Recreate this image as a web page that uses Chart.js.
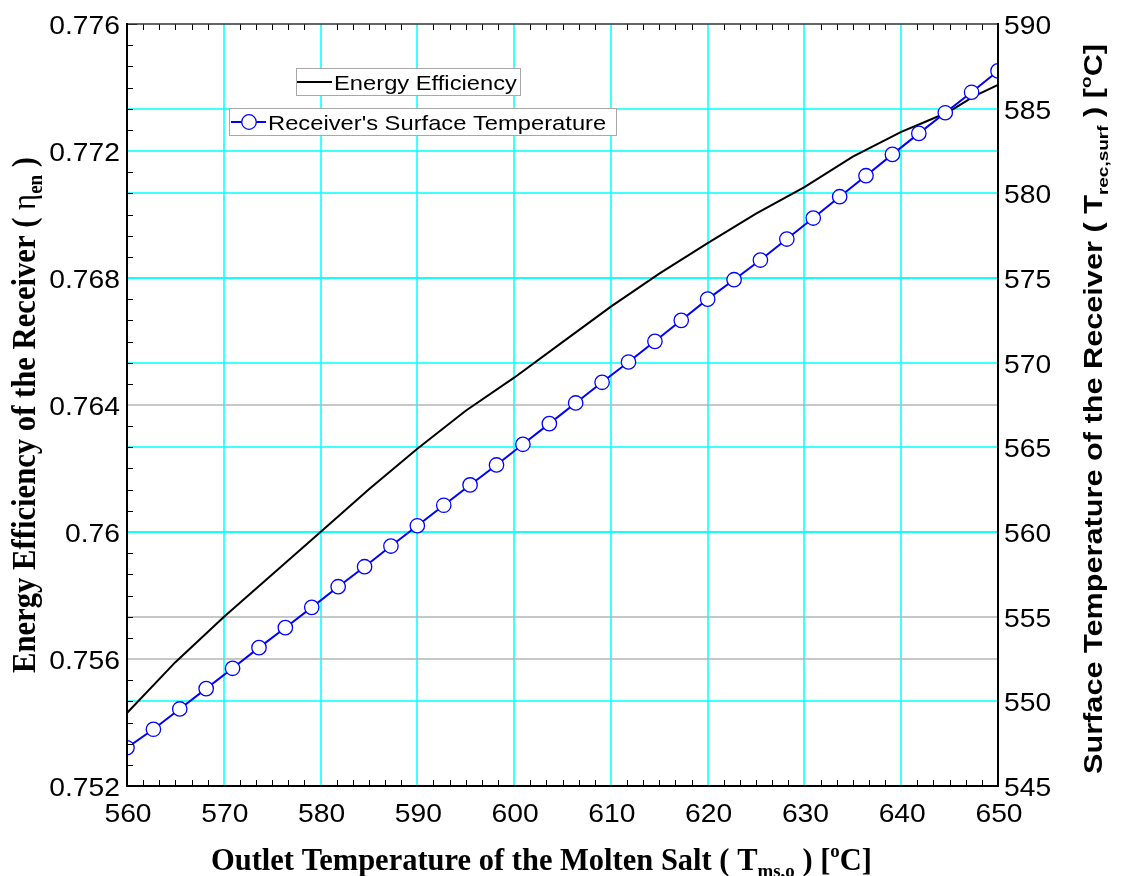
<!DOCTYPE html>
<html>
<head>
<meta charset="utf-8">
<script src="https://cdn.jsdelivr.net/npm/chart.js@4.4.1/dist/chart.umd.min.js"></script>
<style>
html,body{margin:0;padding:0;background:#fff;}
canvas{display:block;}
</style>
</head>
<body>
<canvas id="c" width="1122" height="876"></canvas>
<script>
// ---------------- DATA ----------------
// Energy efficiency of the receiver (left axis)
const effT = [560, 565, 570, 575, 580, 585, 590, 595, 600, 605, 610, 615, 620, 625, 630, 635, 640, 642.5, 645, 647.5, 650];
const effVal = [0.75430, 0.75590, 0.75732, 0.75866, 0.76000, 0.76135, 0.76262, 0.76382, 0.76486, 0.76598, 0.76710, 0.76814, 0.76910, 0.77003, 0.77086, 0.77182, 0.77260, 0.77292, 0.77325, 0.77372, 0.77408];

// Receiver's surface temperature (right axis), marker points
const surfT = [560, 562.73, 565.45, 568.18, 570.91, 573.64, 576.36, 579.09, 581.82, 584.55, 587.27, 590, 592.73, 595.45, 598.18, 600.91, 603.64, 606.36, 609.09, 611.82, 614.55, 617.27, 620, 622.73, 625.45, 628.18, 630.91, 633.64, 636.36, 639.09, 641.82, 644.55, 647.27, 650];
const surfVal = [547.26, 548.35, 549.55, 550.75, 551.95, 553.17, 554.35, 555.55, 556.77, 557.95, 559.17, 560.37, 561.58, 562.78, 563.96, 565.18, 566.40, 567.62, 568.84, 570.04, 571.26, 572.50, 573.75, 574.90, 576.06, 577.30, 578.54, 579.80, 581.04, 582.30, 583.54, 584.76, 585.97, 587.23];

// Tick labels
const xTickLabels = ['560', '570', '580', '590', '600', '610', '620', '630', '640', '650'];
const leftTickLabels = ['0.752', '0.756', '0.76', '0.764', '0.768', '0.772', '0.776'];
const rightTickLabels = ['545', '550', '555', '560', '565', '570', '575', '580', '585', '590'];
// Grid lines drawn gray instead of cyan
const grayLeft = [0.764, 0.756];
const grayRight = [555];

const seriesNames = ['Energy Efficiency', "Receiver's Surface Temperature"];

// ---------------- STYLE ----------------
const CYAN = '#00ffff';
const GRAY = '#b4b4b4';
const SX = 1.13; // horizontal stretch of text

function near(v, arr, tol) { return arr.some(a => Math.abs(a - v) < tol); }

function drawParts(c, parts, size, fam, wt, draw) {
  let x = 0;
  for (const p of parts) {
    const s = p.k === 'n' ? size : size * 0.62;
    const dy = p.k === 'b' ? size * 0.22 : (p.k === 'p' ? -size * 0.42 : 0);
    c.font = `${p.w || wt} ${s}px ${p.f || fam}`;
    if (draw) c.fillText(p.t, x, dy);
    x += c.measureText(p.t).width;
  }
  return x;
}

const decor = {
  id: 'decor',
  beforeDraw(chart) {
    const c = chart.ctx;
    c.save();
    c.fillStyle = '#fff';
    c.fillRect(0, 0, chart.width, chart.height);
    c.restore();
  },
  beforeDatasetsDraw(chart) {
    const c = chart.ctx;
    const a = chart.chartArea;
    const sx = chart.scales.x, yl = chart.scales.yL, yr = chart.scales.yR;
    c.save();
    c.lineWidth = 1.5;
    c.strokeStyle = CYAN;
    const xs = xTickLabels.map(Number);
    for (let i = 1; i < xs.length - 1; i++) {
      const px = Math.round(sx.getPixelForValue(xs[i]));
      c.beginPath(); c.moveTo(px, a.top); c.lineTo(px, a.bottom); c.stroke();
    }
    const rs = rightTickLabels.map(Number);
    for (let i = 1; i < rs.length - 1; i++) {
      const py = Math.round(yr.getPixelForValue(rs[i]));
      c.strokeStyle = near(rs[i], grayRight, 1e-6) ? GRAY : CYAN;
      c.beginPath(); c.moveTo(a.left, py); c.lineTo(a.right, py); c.stroke();
    }
    const ls = leftTickLabels.map(Number);
    for (let i = 1; i < ls.length - 1; i++) {
      const py = Math.round(yl.getPixelForValue(ls[i]));
      c.strokeStyle = near(ls[i], grayLeft, 1e-6) ? GRAY : CYAN;
      c.beginPath(); c.moveTo(a.left, py); c.lineTo(a.right, py); c.stroke();
    }
    c.restore();
  },
  afterDatasetsDraw(chart) {
    const c = chart.ctx;
    const ds = chart.data.datasets;
    c.save();
    c.fillStyle = '#fff';
    c.strokeStyle = '#a8a8a8';
    c.lineWidth = 1;
    c.fillRect(296.5, 68.5, 224, 27);
    c.strokeRect(296.5, 68.5, 224, 27);
    c.fillRect(229.5, 108.5, 387, 27);
    c.strokeRect(229.5, 108.5, 387, 27);
    c.strokeStyle = ds[0].borderColor;
    c.lineWidth = 2;
    c.beginPath(); c.moveTo(297, 82); c.lineTo(332, 82); c.stroke();
    c.strokeStyle = ds[1].borderColor;
    c.beginPath(); c.moveTo(231, 122); c.lineTo(266, 122); c.stroke();
    c.beginPath(); c.arc(249, 122, 7.3, 0, Math.PI * 2);
    c.fillStyle = '#fff'; c.fill();
    c.lineWidth = 1.3; c.strokeStyle = ds[1].pointBorderColor; c.stroke();
    c.fillStyle = '#000';
    c.font = '21px "Liberation Sans", Arial, sans-serif';
    c.textAlign = 'left'; c.textBaseline = 'alphabetic';
    c.save(); c.translate(334, 90); c.scale(SX, 1); c.fillText(ds[0].label, 0, 0); c.restore();
    c.save(); c.translate(268, 129.5); c.scale(SX, 1); c.fillText(ds[1].label, 0, 0); c.restore();
    c.restore();
  },
  afterDraw(chart) {
    const c = chart.ctx;
    const a = chart.chartArea;
    const sx = chart.scales.x, yl = chart.scales.yL, yr = chart.scales.yR;
    c.save();
    c.strokeStyle = '#000';
    c.lineWidth = 1;
    // inward ticks (inner major positions are covered by grid lines)
    const xMajor = xTickLabels.map(Number);
    for (let i = 0; i < xMajor.length; i++) {
      for (let k = 0; k < 6; k++) {
        if (i === xMajor.length - 1 && k > 0) break;
        if (k === 0 && i > 0 && i < xMajor.length - 1) continue;
        const v = xMajor[i] + k * (xMajor[1] - xMajor[0]) / 6;
        const px = Math.round(sx.getPixelForValue(v)) + 0.5;
        const len = k === 0 ? 10 : 6;
        c.beginPath(); c.moveTo(px, a.bottom); c.lineTo(px, a.bottom - len); c.stroke();
        c.beginPath(); c.moveTo(px, a.top); c.lineTo(px, a.top + len); c.stroke();
      }
    }
    const lMajor = leftTickLabels.map(Number);
    const lStep = lMajor[1] - lMajor[0];
    for (let i = 0; i < lMajor.length; i++) {
      for (let k = 0; k < 6; k++) {
        if (i === lMajor.length - 1 && k > 0) break;
        if (k === 0 && i > 0 && i < lMajor.length - 1) continue;
        const v = lMajor[i] + k * lStep / 6;
        const py = Math.round(yl.getPixelForValue(v)) + 0.5;
        const len = k === 0 ? 10 : 6;
        c.beginPath(); c.moveTo(a.left, py); c.lineTo(a.left + len, py); c.stroke();
      }
    }
    c.strokeStyle = '#333';
    c.lineWidth = 1.5;
    c.beginPath(); c.moveTo(a.left, a.top); c.lineTo(a.right, a.top); c.stroke();
    c.strokeStyle = '#000';
    c.lineWidth = 2;
    c.beginPath();
    c.moveTo(a.left, a.top - 1); c.lineTo(a.left, a.bottom); c.lineTo(a.right, a.bottom); c.lineTo(a.right, a.top - 1);
    c.stroke();

    c.fillStyle = '#000';
    c.font = '25px "Liberation Sans", Arial, sans-serif';
    c.textBaseline = 'alphabetic';
    c.textAlign = 'center';
    for (const t of xTickLabels) {
      const px = sx.getPixelForValue(Number(t));
      c.save(); c.translate(px + 1, 822); c.scale(SX, 1); c.fillText(t, 0, 0); c.restore();
    }
    c.textAlign = 'right';
    for (const t of leftTickLabels) {
      const py = yl.getPixelForValue(Number(t));
      c.save(); c.translate(120, py + 10); c.scale(SX, 1); c.fillText(t, 0, 0); c.restore();
    }
    c.textAlign = 'left';
    for (const t of rightTickLabels) {
      const py = yr.getPixelForValue(Number(t));
      c.save(); c.translate(1004, py + 10); c.scale(SX, 1); c.fillText(t, 0, 0); c.restore();
    }

    const serif = '"Liberation Serif", "Times New Roman", serif';
    const sans = '"Liberation Sans", Arial, sans-serif';
    const bParts = [
      { t: 'Outlet Temperature of the Molten Salt ( T', k: 'n' },
      { t: 'ms,o', k: 'b' },
      { t: ' ) [', k: 'n' },
      { t: 'o', k: 'p' },
      { t: 'C]', k: 'n' }
    ];
    let w = drawParts(c, bParts, 32, serif, 'bold', false);
    c.save(); c.translate(211, 870); c.scale(661 / w, 1); drawParts(c, bParts, 32, serif, 'bold', true); c.restore();
    const lParts = [
      { t: 'Energy Efficiency of the Receiver ( ', k: 'n' },
      { t: 'η', k: 'n', w: 'normal' },
      { t: 'en', k: 'b' },
      { t: ' )', k: 'n' }
    ];
    w = drawParts(c, lParts, 29, serif, 'bold', false);
    c.save(); c.translate(35, 673); c.rotate(-Math.PI / 2); c.scale(516 / w, 1.14); drawParts(c, lParts, 29, serif, 'bold', true); c.restore();
    const rParts = [
      { t: 'Surface Temperature of the Receiver ( T', k: 'n' },
      { t: 'rec,surf', k: 'b' },
      { t: ' ) [', k: 'n' },
      { t: 'o', k: 'p' },
      { t: 'C]', k: 'n' }
    ];
    w = drawParts(c, rParts, 22, sans, 'bold', false);
    c.save(); c.translate(1102, 774); c.rotate(-Math.PI / 2); c.scale(730 / w, 1.14); drawParts(c, rParts, 22, sans, 'bold', true); c.restore();
    c.restore();
  }
};

new Chart(document.getElementById('c').getContext('2d'), {
  type: 'line',
  data: {
    datasets: [
      {
        label: seriesNames[0],
        data: effT.map((x, i) => ({ x: x, y: effVal[i] })),
        yAxisID: 'yL',
        borderColor: '#000000',
        borderWidth: 2,
        pointRadius: 0,
        tension: 0,
        clip: 0,
        order: 2
      },
      {
        label: seriesNames[1],
        data: surfT.map((x, i) => ({ x: x, y: surfVal[i] })),
        yAxisID: 'yR',
        borderColor: '#0000ff',
        borderWidth: 2,
        pointRadius: 7.2,
        pointBorderWidth: 1.3,
        pointBackgroundColor: '#ffffff',
        pointBorderColor: '#0000ff',
        tension: 0,
        clip: 0,
        order: 1
      }
    ]
  },
  options: {
    responsive: false,
    animation: false,
    devicePixelRatio: 1,
    layout: { padding: { left: 127, right: 124, top: 24, bottom: 90 } },
    plugins: { legend: { display: false }, tooltip: { enabled: false } },
    scales: {
      x: {
        type: 'linear', min: 560, max: 650,
        ticks: { display: false, stepSize: 10 },
        grid: { display: false, drawTicks: false },
        border: { display: false }
      },
      yL: {
        type: 'linear', position: 'left', min: 0.752, max: 0.776,
        ticks: { display: false, stepSize: 0.004 },
        grid: { display: false, drawTicks: false },
        border: { display: false }
      },
      yR: {
        type: 'linear', position: 'right', min: 545, max: 590,
        ticks: { display: false, stepSize: 5 },
        grid: { display: false, drawTicks: false },
        border: { display: false }
      }
    }
  },
  plugins: [decor]
});
</script>
</body>
</html>
